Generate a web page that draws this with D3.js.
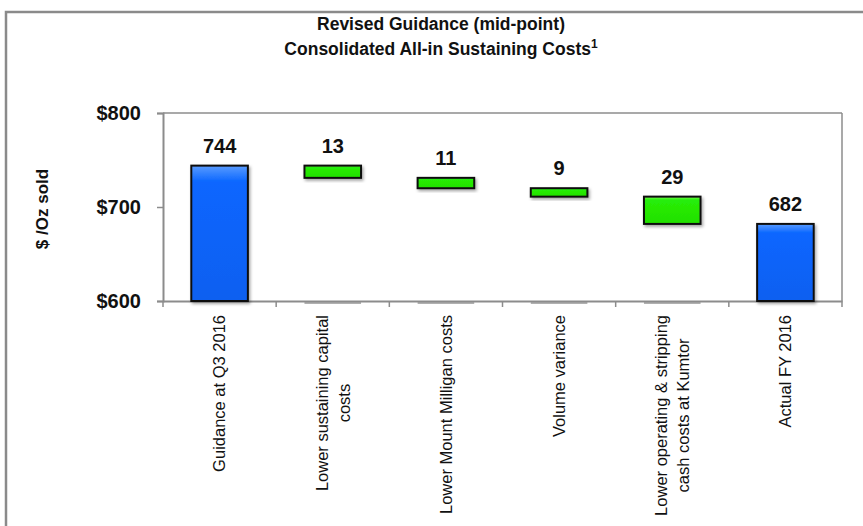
<!DOCTYPE html>
<html>
<head>
<meta charset="utf-8">
<script src="https://cdn.jsdelivr.net/npm/d3@7"></script>
<style>
  html, body { margin: 0; padding: 0; background: #fff; }
  svg { display: block; font-family: "Liberation Sans", Arial, sans-serif; }
</style>
</head>
<body>
<div id="chart"></div>
<script>
// waterfall data
var categories = [
    "Guidance at Q3 2016",
    "Lower sustaining capital\ncosts",
    "Lower Mount Milligan costs",
    "Volume variance",
    "Lower operating & stripping\ncash costs at Kumtor",
    "Actual FY 2016"
];
var values = [744, -13, -11, -9, -29, 682];
var kinds = ["total", "step", "step", "step", "step", "total"];
var yTicks = [600, 700, 800];
var titleLines = ["Revised Guidance (mid-point)", "Consolidated All-in Sustaining Costs"];

var width = 863, height = 526;
var plotLeft = 163, plotRight = 842, plotTop = 113, plotBottom = 301;

var svg = d3.select("#chart").append("svg")
    .attr("width", width)
    .attr("height", height);

var defs = svg.append("defs");
var shadow = defs.append("filter").attr("id", "shadow")
    .attr("x", "-20%").attr("y", "-20%").attr("width", "150%").attr("height", "160%");
shadow.append("feDropShadow")
    .attr("dx", 1.5).attr("dy", 2).attr("stdDeviation", 1.5)
    .attr("flood-color", "#000").attr("flood-opacity", 0.35);

function grad(id, top, mid, bottom) {
    var g = defs.append("linearGradient").attr("id", id)
        .attr("x1", 0).attr("y1", 0).attr("x2", 0).attr("y2", 1);
    g.append("stop").attr("offset", "0%").attr("stop-color", top);
    g.append("stop").attr("offset", "12%").attr("stop-color", mid);
    g.append("stop").attr("offset", "100%").attr("stop-color", bottom);
}
grad("blueGrad", "#5a9cff", "#0a66ff", "#0a60f0");
grad("greenGrad", "#7dff5a", "#28ee08", "#22e000");

// outer chart frame (cropped on right / bottom)
svg.append("rect")
    .attr("x", 6).attr("y", 12)
    .attr("width", 960).attr("height", 600)
    .attr("fill", "none")
    .attr("stroke", "#8a8a8a")
    .attr("stroke-width", 2.5);

// title
var titleX = 441;
svg.append("text")
    .attr("x", titleX).attr("y", 30)
    .attr("text-anchor", "middle")
    .attr("font-size", 17.5).attr("font-weight", "bold").attr("fill", "#111")
    .text(titleLines[0]);
var t2 = svg.append("text")
    .attr("x", titleX).attr("y", 55)
    .attr("text-anchor", "middle")
    .attr("font-size", 17.5).attr("font-weight", "bold").attr("fill", "#111")
    .text(titleLines[1]);
t2.append("tspan").attr("font-size", 12).attr("dy", -7).text("1");

var x = d3.scaleBand()
    .domain(categories)
    .range([plotLeft, plotRight])
    .paddingInner(0.5)
    .paddingOuter(0.25);

var y = d3.scaleLinear()
    .domain([600, 800])
    .range([plotBottom, plotTop]);

// compute waterfall segments
var running = 0;
var bars = categories.map(function (c, i) {
    var v = values[i], b;
    if (kinds[i] == "total") {
        b = { cat: c, lo: y.domain()[0], hi: v, label: v, kind: "total" };
        running = v;
    } else {
        b = { cat: c, lo: running + v, hi: running, label: Math.abs(v), kind: "step" };
        running = running + v;
    }
    return b;
});

// plot area border (top + right)
svg.append("line")
    .attr("x1", plotLeft).attr("x2", plotRight)
    .attr("y1", plotTop).attr("y2", plotTop)
    .attr("stroke", "#8c8c8c").attr("stroke-width", 1.5);
svg.append("line")
    .attr("x1", plotRight).attr("x2", plotRight)
    .attr("y1", plotTop).attr("y2", plotBottom)
    .attr("stroke", "#8c8c8c").attr("stroke-width", 1.5);

// invisible base bars (only their shadow line shows)
var steps = bars.filter(function (d) { return d.kind == "step"; });
svg.append("g").selectAll("line")
    .data(steps)
    .enter().append("line")
    .attr("x1", function (d) { return x(d.cat); })
    .attr("x2", function (d) { return x(d.cat) + x.bandwidth(); })
    .attr("y1", plotBottom + 2).attr("y2", plotBottom + 2)
    .attr("stroke", "#b0b0b0").attr("stroke-width", 2);

// y axis
var yAxis = svg.append("g")
    .attr("transform", "translate(" + plotLeft + ",0)")
    .call(d3.axisLeft(y).tickValues(yTicks).tickFormat(function (d) { return "$" + d; })
        .tickSize(6).tickPadding(16));
yAxis.select(".domain").attr("stroke", "#8c8c8c").attr("stroke-width", 2);
yAxis.selectAll(".tick line").attr("stroke", "#8c8c8c").attr("stroke-width", 1.5);
yAxis.selectAll(".tick text")
    .attr("font-size", 20).attr("font-weight", "bold").attr("fill", "#111")
    .attr("font-family", "Liberation Sans, Arial, sans-serif");

// x axis line + boundary ticks
var xAxis = svg.append("g")
    .attr("transform", "translate(0," + plotBottom + ")")
    .call(d3.axisBottom(x).tickSize(0).tickFormat(""));
xAxis.select(".domain").attr("stroke", "#8c8c8c").attr("stroke-width", 2);

var gap = (x.step() - x.bandwidth()) / 2;
var bounds = categories.map(function (c) { return x(c) - gap; }).concat([plotRight]);
svg.append("g").selectAll("line")
    .data(bounds)
    .enter().append("line")
    .attr("x1", function (d) { return d; }).attr("x2", function (d) { return d; })
    .attr("y1", plotBottom).attr("y2", plotBottom + 6)
    .attr("stroke", "#8c8c8c").attr("stroke-width", 1.5);

// visible bars
var barG = svg.append("g");
barG.selectAll("rect")
    .data(bars)
    .enter().append("rect")
    .attr("x", function (d) { return x(d.cat); })
    .attr("y", function (d) { return y(d.hi); })
    .attr("width", x.bandwidth())
    .attr("height", function (d) { return y(d.lo) - y(d.hi); })
    .attr("fill", function (d) { return d.kind == "total" ? "url(#blueGrad)" : "url(#greenGrad)"; })
    .attr("stroke", "#111")
    .attr("stroke-width", 2)
    .attr("filter", "url(#shadow)");

// value labels
svg.append("g").selectAll("text")
    .data(bars)
    .enter().append("text")
    .attr("x", function (d) { return x(d.cat) + x.bandwidth() / 2; })
    .attr("y", function (d) { return y(d.hi) - 13; })
    .attr("text-anchor", "middle")
    .attr("font-size", 20).attr("font-weight", "bold").attr("fill", "#111")
    .text(function (d) { return d.label; });

// rotated category labels
var lineH = 22;
var labelTop = 315;
var catG = svg.append("g").selectAll("g")
    .data(categories)
    .enter().append("g");

catG.each(function (c) {
    var g = d3.select(this);
    var lines = c.split("\n");
    var txt = g.append("text")
        .attr("text-anchor", "middle")
        .attr("font-size", 16.5).attr("fill", "#111");
    txt.selectAll("tspan")
        .data(lines)
        .enter().append("tspan")
        .attr("x", 0)
        .attr("y", function (d, i) { return (i - (lines.length - 1) / 2) * lineH; })
        .attr("dy", "0.35em")
        .text(function (d) { return d; });
    var maxLen = d3.max(txt.selectAll("tspan").nodes(), function (n) { return n.getComputedTextLength(); });
    g.attr("transform", "translate(" + (x(c) + x.bandwidth() / 2) + "," + (labelTop + maxLen / 2) + ") rotate(-90)");
});

// y axis title
svg.append("text")
    .attr("transform", "translate(42,209) rotate(-90)")
    .attr("text-anchor", "middle")
    .attr("dy", "0.35em")
    .attr("font-size", 17).attr("font-weight", "bold").attr("fill", "#111")
    .text("$ /Oz sold");
</script>
</body>
</html>
